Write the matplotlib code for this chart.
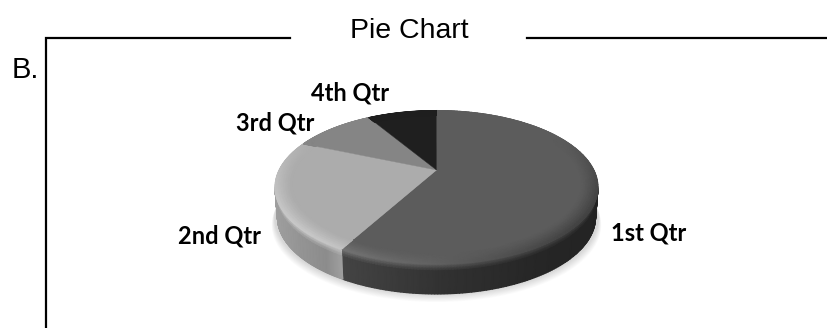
import numpy as np
import matplotlib
matplotlib.use("Agg")
import matplotlib.pyplot as plt
from matplotlib.patches import Polygon

labels = ["1st Qtr", "2nd Qtr", "3rd Qtr", "4th Qtr"]
values = [8.1, 3.25, 1.4, 1.2]
top_colors = [0.36, 0.675, 0.52, 0.12]

label_pos = [(649, 233), (220, 236), (275, 123), (350, 93)]

TILT = 0.225
WALL = 30
# wall shade along the screen x, only 1st and 2nd Qtr show a wall
wall_stops = {
    0: ([340, 450, 540, 598], [0.27, 0.19, 0.15, 0.14]),
    1: ([275, 300, 325, 340], [0.62, 0.58, 0.55, 0.62]),
}


# disc -> screen, the pie is tilted so the apex sits above the ellipse centre
def project(t, r=1.0):
    u = r * np.sin(t)
    v = r * np.cos(t)
    w = 1 + TILT * v
    return 436.5 + 157.4 * u / w, 170 - 72.9 * v / w


# how much the rim is lightened or darkened at angle t
def rim_shade(t):
    light = -np.sin(t)
    depth = np.clip((-np.cos(t) + 0.5) / 1.5, 0, 1)
    return depth * np.where(light > 0, 0.02 + 0.17 * light, 0.02 + 0.2 * light)


fig = plt.figure(figsize=(8.28, 3.28), dpi=100)
ax = fig.add_axes([0, 0, 1, 1])
ax.set_xlim(0, 828)
ax.set_ylim(328, 0)
ax.axis("off")

# frame around the chart, broken for the title
ax.plot([290, 46, 46], [38, 38, 328], color="black", lw=1.6, solid_joinstyle="miter")
ax.plot([527, 828], [38, 38], color="black", lw=1.6)
ax.text(409, 31, "Pie Chart", family="Liberation Sans", fontsize=20.5, ha="center", va="center")
ax.text(12, 70, "B.", family="Liberation Sans", fontsize=21, ha="left", va="center")

# soft shadow under the pie
ts = np.linspace(0, 2 * np.pi, 240)
xs, ys = project(ts)
for grow in np.linspace(1, 10, 10):
    ax.fill(436.5 + (xs - 436.5) * (1 + grow / 500), ys + WALL + grow * 0.8, color="black", alpha=0.014, lw=0, zorder=1)

shares = np.cumsum([0] + values) / sum(values) * 2 * np.pi
wall_from = np.arccos(-TILT)
wall_to = 2 * np.pi - wall_from

for i in range(len(values)):
    t0, t1 = shares[i], shares[i + 1]
    base = top_colors[i]

    # top face
    ts = np.linspace(t0, t1, 160)
    xs, ys = project(ts)
    pts = np.column_stack([np.r_[436.5, xs], np.r_[170, ys]])
    ax.add_patch(Polygon(pts, closed=True, fc=str(base), ec=str(base), lw=0.3, zorder=3))

    # rim bevel
    rs = np.linspace(0.9, 1, 8)
    T, R = np.meshgrid(ts, rs)
    X, Y = project(T, R)
    C = base + rim_shade(T) * ((R - 0.9) / 0.1) ** 1.3
    ax.pcolormesh(X, Y, C, shading="gouraud", cmap="gray", vmin=0, vmax=1, zorder=4)

    # side wall
    a, b = max(t0, wall_from), min(t1, wall_to)
    if i in wall_stops and a < b:
        ts = np.linspace(a, b, 120)
        drops = np.array([0, 2, 4, 7, WALL])
        T, D = np.meshgrid(ts, drops)
        X, Y = project(T)
        X = 436.5 + (X - 436.5) * (1 - 0.015 * D / WALL)
        Y = Y + D
        stops_x, stops_g = wall_stops[i]
        C = np.interp(project(T)[0], stops_x, stops_g)
        rim_g = base + rim_shade(T)
        fade = np.clip(1 - D / 7, 0, 1)
        C = C + (rim_g - C) * fade
        ax.pcolormesh(X, Y, C, shading="gouraud", cmap="gray", vmin=0, vmax=1, zorder=2)

for name, (x, y) in zip(labels, label_pos):
    ax.text(x, y, name, family="Lato", fontweight="bold", fontsize=17, ha="center", va="center", zorder=6)

fig.savefig("out.png", dpi=100)
